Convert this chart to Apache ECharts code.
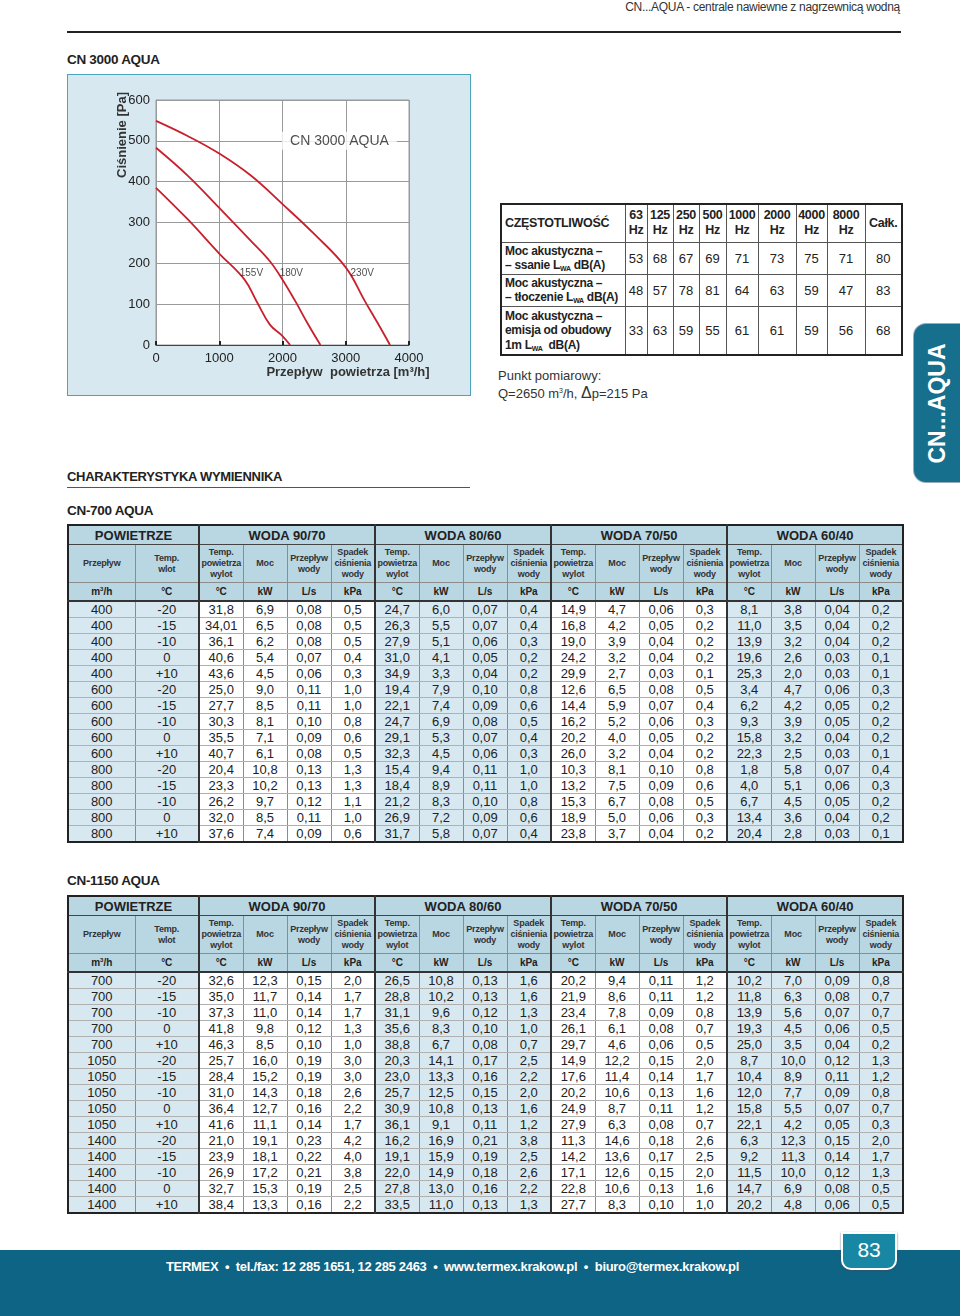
<!DOCTYPE html>
<html lang="pl">
<head>
<meta charset="utf-8">
<script src="https://cdn.jsdelivr.net/npm/echarts@6/dist/echarts.min.js"></script>
<style>
body{margin:0;background:#fff;font-family:"Liberation Sans",Arial,sans-serif;color:#222}
#page{position:relative;width:960px;height:1316px;overflow:hidden;background:#fff}
.abs{position:absolute}
.narrow{font-family:"Liberation Sans Narrow","Liberation Sans",Arial,sans-serif;font-stretch:condensed;letter-spacing:-0.3px}
table.ex{position:absolute;border-collapse:collapse;table-layout:fixed;border:2px solid #222}
table.ex td{padding:0;text-align:center;border:1px solid #8c8c8c;white-space:nowrap;overflow:hidden;line-height:1}
table.ex td.g{border-left:2px solid #333}
table.ex tr.h1 td{background:#b9d6e3;font-weight:bold;font-size:13px;height:18px;border-bottom:1px solid #444}
table.ex tr.h2 td{background:#b9d6e3;font-weight:bold;font-size:9px;line-height:11px;height:37px;color:#333;letter-spacing:-0.2px}
table.ex tr.h3 td{background:#b9d6e3;font-weight:bold;font-size:10px;height:17px;border-bottom:2px solid #333}
table.ex tr.d td{font-size:13px;height:15px;border-top:1px solid #b0b0b0;border-bottom:1px solid #b0b0b0}
table.ex td.p{background:#d7e8f0}
table.ex td.w{background:#fff}
table.ac{position:absolute;border-collapse:collapse;table-layout:fixed;border:2px solid #222}
table.ac td{border:1px solid #555;padding:0;text-align:center;font-size:13px;white-space:nowrap;overflow:hidden}
table.ac tr.hh td{font-weight:bold;font-size:12.5px;line-height:15px;letter-spacing:-0.3px}
table.ac td.lab{text-align:left;padding-left:3px;font-weight:bold;font-size:12px;line-height:14.5px;letter-spacing:-0.3px}
table.ac sub{font-size:7px;vertical-align:-2px;line-height:0}
</style>
</head>
<body>
<div id="page">
  <div class="abs narrow" style="right:60px;top:0;font-size:12px;color:#333;line-height:14px">CN...AQUA - centrale nawiewne z nagrzewnicą wodną</div>
  <div class="abs" style="left:67px;top:31px;width:834px;height:2px;background:#222"></div>

  <div class="abs narrow" style="left:67px;top:52px;font-size:13.5px;font-weight:bold;line-height:16px">CN 3000 AQUA</div>
  <div class="abs" style="left:67px;top:74px;width:404px;height:322px;box-sizing:border-box;background:#d7e8f0;border:1.5px solid #4aa5ba"></div>
  <div id="chart" class="abs" style="left:67px;top:74px;width:404px;height:322px"></div>

  <table class="ac" id="acTable" style="left:500px;top:203px;width:401px"></table>
  <div class="abs" style="left:498px;top:368px;font-size:13px;line-height:15px;color:#333">Punkt pomiarowy:<br>Q=2650 m<sup style="font-size:7px">3</sup>/h, <span style="font-size:16px">Δ</span>p=215 Pa</div>

  <div class="abs narrow" style="left:67px;top:469px;font-size:13px;font-weight:bold;line-height:16px">CHARAKTERYSTYKA WYMIENNIKA</div>
  <div class="abs" style="left:67px;top:487px;width:403px;height:1px;background:#555"></div>

  <div class="abs" style="left:914px;top:324px;width:60px;height:158px;background:#176f8e;border-radius:12px;box-shadow:0 0 0 1px #9ab"></div>
  <div class="abs" style="left:914px;top:324px;width:46px;height:158px;display:flex;align-items:center;justify-content:center">
    <div style="transform:rotate(-90deg);color:#fff;font-weight:bold;font-size:23px;white-space:nowrap">CN...AQUA</div>
  </div>

  <div class="abs narrow" style="left:67px;top:503px;font-size:13.5px;font-weight:bold;line-height:16px">CN-700 AQUA</div>
  <table class="ex" id="t700" style="left:67px;top:524px;width:835px"></table>

  <div class="abs narrow" style="left:67px;top:873px;font-size:13.5px;font-weight:bold;line-height:16px">CN-1150 AQUA</div>
  <table class="ex" id="t1150" style="left:67px;top:895px;width:835px"></table>

  <div class="abs" style="left:0;top:1250px;width:960px;height:66px;background:#0d6484"></div>
  <div class="abs" style="left:841px;top:1232px;width:56px;height:38px;box-sizing:border-box;background:#1787a3;border:2px solid #fff;border-radius:0 0 10px 10px;box-shadow:0 1px 2px #356"></div>
  <div class="abs narrow" style="left:841px;top:1238px;width:56px;text-align:center;color:#fff;font-size:21px;line-height:24px">83</div>
  <div class="abs narrow" style="left:0;width:905px;text-align:center;top:1259px;color:#fff;font-weight:bold;font-size:13px;line-height:16px">TERMEX &nbsp;•&nbsp; tel./fax: 12 285 1651, 12 285 2463 &nbsp;•&nbsp; www.termex.krakow.pl &nbsp;•&nbsp; biuro@termex.krakow.pl</div>
</div>

<script>
// ---------- chart data ----------
const curve155 = [[0,385],[500,308],[1000,224],[1400,160],[1600,104],[1800,50],[2000,22],[2120,0]];
const curve180 = [[0,483],[500,415],[1000,336],[1500,255],[1800,205],[2000,160],[2200,108],[2400,52],[2600,0]];
const curve230 = [[0,549],[500,512],[1000,469],[1500,415],[2000,345],[2500,272],[3000,190],[3300,108],[3500,55],[3700,0]];
const voltLabels = [{name:'155V',value:[1316,176]},{name:'180V',value:[1947,176]},{name:'230V',value:[3068,176]}];
const chartTitle = [{name:'CN 3000 AQUA',value:[2900,500]}];

// ---------- acoustic table ----------
const acFreq = ['63','125','250','500','1000','2000','4000','8000'];
const acSsanie = ['53','68','67','69','71','73','75','71','80'];
const acTloczenie = ['48','57','78','81','64','63','59','47','83'];
const acEmisja = ['33','63','59','55','61','61','59','56','68'];

// ---------- exchanger tables ----------
const cn700Rows = [
['400','-20','31,8','6,9','0,08','0,5','24,7','6,0','0,07','0,4','14,9','4,7','0,06','0,3','8,1','3,8','0,04','0,2'],
['400','-15','34,01','6,5','0,08','0,5','26,3','5,5','0,07','0,4','16,8','4,2','0,05','0,2','11,0','3,5','0,04','0,2'],
['400','-10','36,1','6,2','0,08','0,5','27,9','5,1','0,06','0,3','19,0','3,9','0,04','0,2','13,9','3,2','0,04','0,2'],
['400','0','40,6','5,4','0,07','0,4','31,0','4,1','0,05','0,2','24,2','3,2','0,04','0,2','19,6','2,6','0,03','0,1'],
['400','+10','43,6','4,5','0,06','0,3','34,9','3,3','0,04','0,2','29,9','2,7','0,03','0,1','25,3','2,0','0,03','0,1'],
['600','-20','25,0','9,0','0,11','1,0','19,4','7,9','0,10','0,8','12,6','6,5','0,08','0,5','3,4','4,7','0,06','0,3'],
['600','-15','27,7','8,5','0,11','1,0','22,1','7,4','0,09','0,6','14,4','5,9','0,07','0,4','6,2','4,2','0,05','0,2'],
['600','-10','30,3','8,1','0,10','0,8','24,7','6,9','0,08','0,5','16,2','5,2','0,06','0,3','9,3','3,9','0,05','0,2'],
['600','0','35,5','7,1','0,09','0,6','29,1','5,3','0,07','0,4','20,2','4,0','0,05','0,2','15,8','3,2','0,04','0,2'],
['600','+10','40,7','6,1','0,08','0,5','32,3','4,5','0,06','0,3','26,0','3,2','0,04','0,2','22,3','2,5','0,03','0,1'],
['800','-20','20,4','10,8','0,13','1,3','15,4','9,4','0,11','1,0','10,3','8,1','0,10','0,8','1,8','5,8','0,07','0,4'],
['800','-15','23,3','10,2','0,13','1,3','18,4','8,9','0,11','1,0','13,2','7,5','0,09','0,6','4,0','5,1','0,06','0,3'],
['800','-10','26,2','9,7','0,12','1,1','21,2','8,3','0,10','0,8','15,3','6,7','0,08','0,5','6,7','4,5','0,05','0,2'],
['800','0','32,0','8,5','0,11','1,0','26,9','7,2','0,09','0,6','18,9','5,0','0,06','0,3','13,4','3,6','0,04','0,2'],
['800','+10','37,6','7,4','0,09','0,6','31,7','5,8','0,07','0,4','23,8','3,7','0,04','0,2','20,4','2,8','0,03','0,1']
];
const cn1150Rows = [
['700','-20','32,6','12,3','0,15','2,0','26,5','10,8','0,13','1,6','20,2','9,4','0,11','1,2','10,2','7,0','0,09','0,8'],
['700','-15','35,0','11,7','0,14','1,7','28,8','10,2','0,13','1,6','21,9','8,6','0,11','1,2','11,8','6,3','0,08','0,7'],
['700','-10','37,3','11,0','0,14','1,7','31,1','9,6','0,12','1,3','23,4','7,8','0,09','0,8','13,9','5,6','0,07','0,7'],
['700','0','41,8','9,8','0,12','1,3','35,6','8,3','0,10','1,0','26,1','6,1','0,08','0,7','19,3','4,5','0,06','0,5'],
['700','+10','46,3','8,5','0,10','1,0','38,8','6,7','0,08','0,7','29,7','4,6','0,06','0,5','25,0','3,5','0,04','0,2'],
['1050','-20','25,7','16,0','0,19','3,0','20,3','14,1','0,17','2,5','14,9','12,2','0,15','2,0','8,7','10,0','0,12','1,3'],
['1050','-15','28,4','15,2','0,19','3,0','23,0','13,3','0,16','2,2','17,6','11,4','0,14','1,7','10,4','8,9','0,11','1,2'],
['1050','-10','31,0','14,3','0,18','2,6','25,7','12,5','0,15','2,0','20,2','10,6','0,13','1,6','12,0','7,7','0,09','0,8'],
['1050','0','36,4','12,7','0,16','2,2','30,9','10,8','0,13','1,6','24,9','8,7','0,11','1,2','15,8','5,5','0,07','0,7'],
['1050','+10','41,6','11,1','0,14','1,7','36,1','9,1','0,11','1,2','27,9','6,3','0,08','0,7','22,1','4,2','0,05','0,3'],
['1400','-20','21,0','19,1','0,23','4,2','16,2','16,9','0,21','3,8','11,3','14,6','0,18','2,6','6,3','12,3','0,15','2,0'],
['1400','-15','23,9','18,1','0,22','4,0','19,1','15,9','0,19','2,5','14,2','13,6','0,17','2,5','9,2','11,3','0,14','1,7'],
['1400','-10','26,9','17,2','0,21','3,8','22,0','14,9','0,18','2,6','17,1','12,6','0,15','2,0','11,5','10,0','0,12','1,3'],
['1400','0','32,7','15,3','0,19','2,5','27,8','13,0','0,16','2,2','22,8','10,6','0,13','1,6','14,7','6,9','0,08','0,5'],
['1400','+10','38,4','13,3','0,16','2,2','33,5','11,0','0,13','1,3','27,7','8,3','0,10','1,0','20,2','4,8','0,06','0,5']
];
const waterGroups = ['WODA 90/70','WODA 80/60','WODA 70/50','WODA 60/40'];
const subHeads = ['Temp.<br>powietrza<br>wylot','Moc','Przepływ<br>wody','Spadek<br>ciśnienia<br>wody'];
const subUnits = ['°C','kW','L/s','kPa'];

// ---------- build acoustic table ----------
(function(){
  const t = document.getElementById('acTable');
  const widths = [124,22,26,26,27,32,38,31,38,37];
  let h = '<colgroup>' + widths.map(w=>'<col style="width:'+w+'px">').join('') + '</colgroup>';
  h += '<tr class="hh" style="height:38px"><td class="lab" style="font-size:12.5px">CZĘSTOTLIWOŚĆ</td>' +
       acFreq.map(f=>'<td>'+f+'<br>Hz</td>').join('') + '<td>Całk.</td></tr>';
  const labs = ['Moc akustyczna –<br>– ssanie L<sub>WA</sub> dB(A)','Moc akustyczna –<br>– tłoczenie L<sub>WA</sub> dB(A)','Moc akustyczna –<br>emisja od obudowy<br>1m L<sub>WA</sub> &nbsp;dB(A)'];
  const rows = [acSsanie, acTloczenie, acEmisja];
  const hs = [32,32,49];
  rows.forEach((r,i)=>{
    h += '<tr style="height:'+hs[i]+'px"><td class="lab">'+labs[i]+'</td>' + r.map(v=>'<td>'+v+'</td>').join('') + '</tr>';
  });
  t.innerHTML = h;
})();

// ---------- build exchanger tables ----------
function buildEx(id, rows){
  const t = document.getElementById(id);
  let h = '<colgroup><col style="width:67px"><col style="width:64px">';
  for(let i=0;i<16;i++) h += '<col style="width:44px">';
  h += '</colgroup>';
  h += '<tr class="h1"><td colspan="2">POWIETRZE</td>' + waterGroups.map(g=>'<td class="g" colspan="4">'+g+'</td>').join('') + '</tr>';
  h += '<tr class="h2"><td>Przepływ</td><td>Temp.<br>wlot</td>';
  waterGroups.forEach(()=>{ subHeads.forEach((s,k)=>{ h += '<td'+(k===0?' class="g"':'')+'>'+s+'</td>'; }); });
  h += '</tr>';
  h += '<tr class="h3"><td>m<sup style="font-size:6px">3</sup>/h</td><td>°C</td>';
  waterGroups.forEach(()=>{ subUnits.forEach((s,k)=>{ h += '<td'+(k===0?' class="g"':'')+'>'+s+'</td>'; }); });
  h += '</tr>';
  rows.forEach(r=>{
    h += '<tr class="d">';
    r.forEach((v,c)=>{
      let cls = [];
      if(c<2) cls.push('p');
      else {
        const g = Math.floor((c-2)/4);
        cls.push(g%2===0 ? 'w' : 'p');
        if((c-2)%4===0) cls.push('g');
      }
      h += '<td class="'+cls.join(' ')+'">'+v+'</td>';
    });
    h += '</tr>';
  });
  t.innerHTML = h;
}
buildEx('t700', cn700Rows);
buildEx('t1150', cn1150Rows);

// ---------- chart ----------
const FONT = '"Liberation Sans", Arial, sans-serif';
const red = '#c8202c';
const chart = echarts.init(document.getElementById('chart'), null, {renderer:'canvas'});
const mkCurve = (name, data) => ({
  name, type:'line', data, smooth:0.4, symbol:'none',
  lineStyle:{color:red, width:1.8}, z:3
});
chart.setOption({
  animation:false,
  grid:{left:89, top:26, width:253, height:245, show:true, backgroundColor:'#fff', borderColor:'#9a9a9a', borderWidth:1},
  xAxis:{type:'value', min:0, max:4000, interval:1000,
    axisLine:{lineStyle:{color:'#444', width:1}},
    axisTick:{inside:true, length:4, lineStyle:{color:'#222', width:2}},
    axisLabel:{fontSize:13, color:'#222', margin:7, fontFamily:FONT, formatter:v=>String(v)},
    splitLine:{lineStyle:{color:'#9a9a9a', width:1}}},
  yAxis:{type:'value', min:0, max:600, interval:100,
    axisLine:{show:true, lineStyle:{color:'#9a9a9a'}},
    axisTick:{show:false},
    axisLabel:{fontSize:13, color:'#222', margin:6, fontFamily:FONT, formatter:v=>String(v)},
    splitLine:{lineStyle:{color:'#9a9a9a', width:1}}},
  graphic:[
    {type:'text', x:55, y:61, rotation:Math.PI/2,
      style:{text:'Ciśnienie [Pa]', textAlign:'center', textVerticalAlign:'middle', fill:'#333', font:'bold 13px '+FONT}},
    {type:'text', x:281, y:298,
      style:{text:'Przepływ  powietrza [m³/h]', textAlign:'center', textVerticalAlign:'middle', fill:'#333', font:'bold 13px '+FONT}}
  ],
  series:[
    mkCurve('155V', curve155),
    mkCurve('180V', curve180),
    mkCurve('230V', curve230),
    {type:'scatter', data:voltLabels, symbolSize:1, itemStyle:{color:'rgba(0,0,0,0)'}, z:4,
      label:{show:true, position:'right', distance:0, formatter:'{b}', fontSize:10, color:'#222', fontFamily:FONT}},
    {type:'scatter', data:chartTitle, symbolSize:1, itemStyle:{color:'rgba(0,0,0,0)'}, z:5,
      label:{show:true, position:'inside', formatter:'{b}', fontSize:14, color:'#222', fontFamily:FONT,
        backgroundColor:'#fff', padding:[2,8]}}
  ]
});
</script>
</body>
</html>
